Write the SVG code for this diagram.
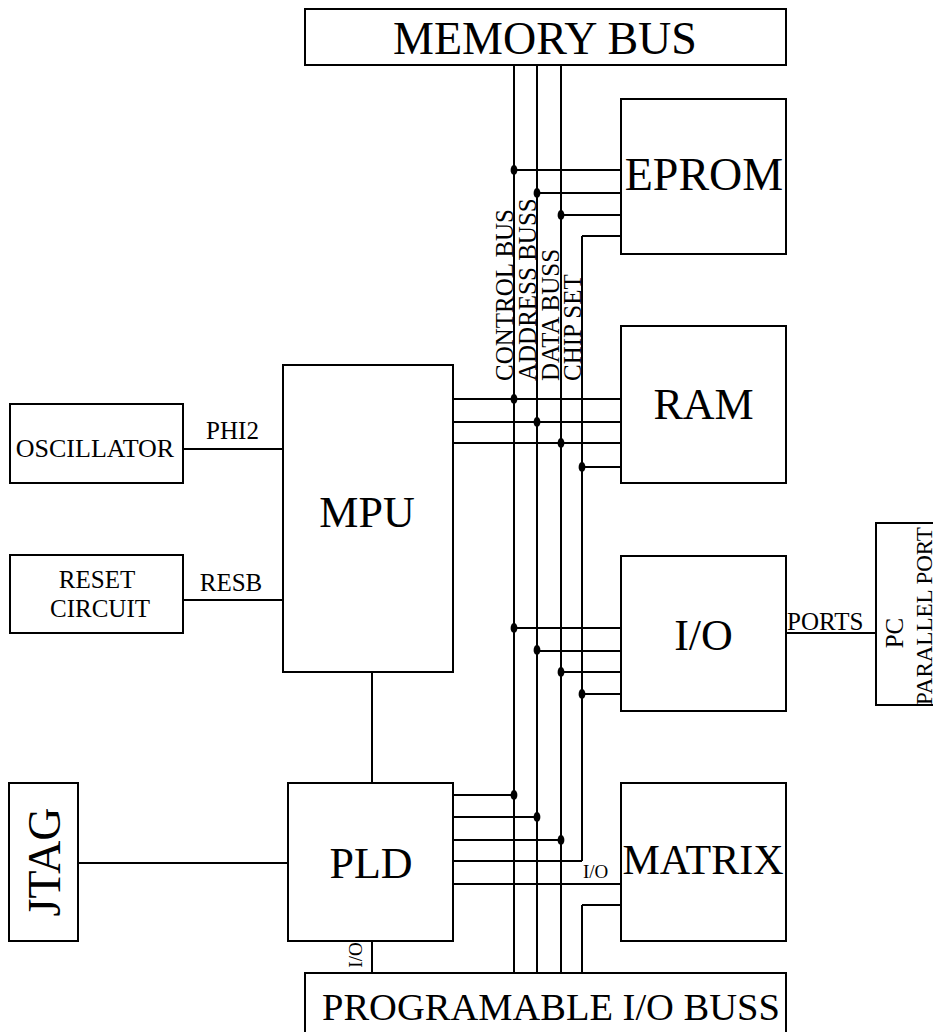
<svg xmlns="http://www.w3.org/2000/svg" width="933" height="1032" viewBox="0 0 933 1032">
<style>
.box{fill:#fff;stroke:#000;stroke-width:2}
.ln{fill:none;stroke:#000;stroke-width:2}
.dot{fill:#000}
text{font-family:"Liberation Serif","Times New Roman",serif;fill:#000}
.big{font-size:44px;text-anchor:middle}
.lbl{font-size:25px}
.sm{font-size:19px}
</style>
<rect width="933" height="1032" fill="#fff"/>
<g id="connectors">
<path class="ln" d="M514,65V973M537,65V973M561,65V973M582,236V861M582,905V973"/>
<path class="ln" d="M514,170H621M537,193H621M561,215H621M582,236H621"/>
<path class="ln" d="M453,399H621M453,422H621M453,443H621M582,467H621"/>
<path class="ln" d="M514,628H621M537,651H621M561,672H621M582,694H621"/>
<path class="ln" d="M453,795H514M453,817H537M453,840H561M453,861H582M453,884H621M621,905H582"/>
<path class="ln" d="M372,672V783M372,941V973M78,863H288M183,449H283M183,600H283M786,633H876"/>
<ellipse class="dot" cx="514" cy="170" rx="3.4" ry="5"/>
<ellipse class="dot" cx="537" cy="193" rx="3.4" ry="5"/>
<ellipse class="dot" cx="561" cy="215" rx="3.4" ry="5"/>
<ellipse class="dot" cx="514" cy="399" rx="3.4" ry="5"/>
<ellipse class="dot" cx="537" cy="422" rx="3.4" ry="5"/>
<ellipse class="dot" cx="561" cy="443" rx="3.4" ry="5"/>
<ellipse class="dot" cx="582" cy="467" rx="3.4" ry="5"/>
<ellipse class="dot" cx="514" cy="628" rx="3.4" ry="5"/>
<ellipse class="dot" cx="537" cy="650" rx="3.4" ry="5"/>
<ellipse class="dot" cx="561" cy="672" rx="3.4" ry="5"/>
<ellipse class="dot" cx="582" cy="694" rx="3.4" ry="5"/>
<ellipse class="dot" cx="514" cy="795" rx="3.4" ry="5"/>
<ellipse class="dot" cx="537" cy="817" rx="3.4" ry="5"/>
<ellipse class="dot" cx="561" cy="840" rx="3.4" ry="5"/>
<text class="lbl" transform="translate(512.5,381) rotate(-90)">CONTROL BUS</text>
<text class="lbl" transform="translate(535.5,381) rotate(-90)">ADDRESS BUSS</text>
<text class="lbl" transform="translate(558.5,381) rotate(-90)">DATA BUSS</text>
<text class="lbl" transform="translate(580.5,381) rotate(-90)">CHIP SET</text>
<text class="lbl" x="232.5" y="439" text-anchor="middle">PHI2</text>
<text class="lbl" x="231" y="591" text-anchor="middle">RESB</text>
<text class="lbl" x="787" y="630">PORTS</text>
<text class="sm" x="583" y="878">I/O</text>
<text class="sm" transform="translate(362,955) rotate(-90)" text-anchor="middle">I/O</text>
</g>
<g id="memory-bus"><rect class="box" x="305" y="9" width="481" height="56"/><text x="545" y="54" font-size="46" text-anchor="middle">MEMORY BUS</text></g>
<g id="eprom"><rect class="box" x="621" y="99" width="165" height="155"/><text x="704" y="190" font-size="46" text-anchor="middle">EPROM</text></g>
<g id="ram"><rect class="box" x="621" y="326" width="165" height="157"/><text class="big" x="703.5" y="419">RAM</text></g>
<g id="io"><rect class="box" x="621" y="556" width="165" height="155"/><text class="big" x="703.5" y="650" font-size="46">I/O</text></g>
<g id="matrix"><rect class="box" x="621" y="783" width="165" height="158"/><text x="703" y="874" font-size="42" text-anchor="middle">MATRIX</text></g>
<g id="mpu"><rect class="box" x="283" y="365" width="170" height="307"/><text class="big" x="367" y="527">MPU</text></g>
<g id="pld"><rect class="box" x="288" y="783" width="165" height="158"/><text class="big" x="371" y="878">PLD</text></g>
<g id="oscillator"><rect class="box" x="10" y="404" width="173" height="79"/><text x="95" y="457" font-size="26" text-anchor="middle">OSCILLATOR</text></g>
<g id="reset"><rect class="box" x="10" y="555" width="173" height="78"/><text class="lbl" x="97" y="588" text-anchor="middle">RESET</text><text class="lbl" x="100" y="617" text-anchor="middle">CIRCUIT</text></g>
<g id="jtag"><rect class="box" x="9" y="783" width="69" height="158"/><text transform="translate(60,862) rotate(-90)" font-size="46" text-anchor="middle">JTAG</text></g>
<g id="pc-port"><rect class="box" x="876" y="523" width="70" height="182"/><text class="lbl" transform="translate(903,633) rotate(-90)" text-anchor="middle">PC</text><text transform="translate(932,616) rotate(-90)" font-size="23" text-anchor="middle">PARALLEL PORT</text></g>
<g id="prog-bus"><rect class="box" x="305" y="973" width="481" height="70"/><text x="322" y="1020" font-size="38.5">PROGRAMABLE I/O BUSS</text></g>
</svg>
